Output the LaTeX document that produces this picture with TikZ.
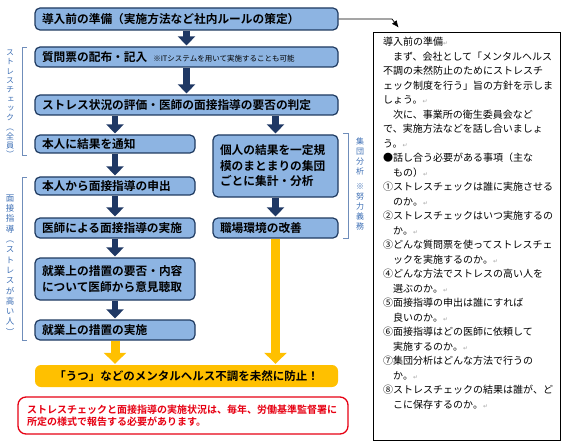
\documentclass[tikz,border=0pt]{standalone}
\usepackage{fontspec}
\setmainfont{Noto Sans CJK JP}[BoldFont={Noto Sans CJK JP Bold}]
\newfontfamily\vjp{Noto Sans CJK JP}[RawFeature=+vert]
\newfontfamily\symfont{DejaVu Sans}
\usetikzlibrary{arrows.meta}

\definecolor{boxfill}{HTML}{8DB4E2}
\definecolor{boxline}{HTML}{1F3A60}
\definecolor{navy}{HTML}{1F3864}
\definecolor{warn}{HTML}{FFC000}
\definecolor{alert}{HTML}{E60012}
\definecolor{labelblue}{HTML}{3C6EB4}
\definecolor{bracket}{HTML}{6F8DBA}

\newcommand{\retmark}{{\symfont\color{gray!70}\fontsize{6}{6}\selectfont ↵}}

\begin{document}
\begin{tikzpicture}[x=1pt,y=-1pt,
  flowbox/.style={draw=boxline, line width=1.2pt, fill=boxfill, rounded corners=5pt,
    font=\bfseries\fontsize{11.7}{15.5}\selectfont, inner xsep=7pt, inner ysep=0pt, align=left},
  wide/.style={flowbox, text width=289pt},
  narrow/.style={flowbox, text width=146pt},
  darr/.style={navy, line width=6.5pt, -{Triangle[width=17pt,length=9pt]}, shorten >=1pt},
  yarr/.style={warn, line width=9pt, -{Triangle[width=22pt,length=11pt]}, shorten >=1pt},
  vlabel/.style={labelblue, align=center, inner sep=0pt},
  brk/.style={bracket, line width=0.8pt}]
\useasboundingbox (0,0) rectangle (585,446);

% Main flow
\node[wide, minimum height=22pt] (prep) at (186.5,19) {導入前の準備（実施方法など社内ルールの策定）};
\node[wide, minimum height=20pt] (survey) at (186.5,57) {質問票の配布・記入\hspace{6pt}{\mdseries\fontsize{7.5}{9}\selectfont ※ITシステムを用いて実施することも可能}};
\node[wide, minimum height=20pt] (judge) at (186.5,105) {ストレス状況の評価・医師の面接指導の要否の判定};

% Left column
\node[narrow, minimum height=18pt] (notify) at (115,144) {本人に結果を通知};
\node[narrow, minimum height=18pt] (request) at (115,186) {本人から面接指導の申出};
\node[narrow, minimum height=20pt] (interview) at (115,228) {医師による面接指導の実施};
\node[narrow, minimum height=42pt] (opinion) at (115,279) {就業上の措置の要否・内容\\について医師から意見聴取};
\node[narrow, minimum height=20pt] (measure) at (115,330) {就業上の措置の実施};

% Right column
\node[flowbox, text width=111pt, minimum height=62pt] (group) at (275.5,166) {個人の結果を一定規\\模のまとまりの集団\\ごとに集計・分析};
\node[flowbox, text width=111pt, minimum height=20pt] (improve) at (275.5,228) {職場環境の改善};

% Goal and note
\node[fill=warn, rounded corners=6pt, minimum width=303pt, minimum height=22pt, inner sep=0pt,
  font=\bfseries\fontsize{11.5}{14}\selectfont] (prevent) at (186.5,376) {「うつ」などのメンタルヘルス不調を未然に防止！};
\node[draw=alert, line width=1.3pt, rounded corners=8pt, text width=312pt, minimum height=37pt,
  inner xsep=9pt, inner ysep=0pt, align=left, text=alert,
  font=\bfseries\fontsize{10}{12.5}\selectfont] (report) at (183,415.5) {ストレスチェックと面接指導の実施状況は、毎年、労働基準監督署に\\所定の様式で報告する必要があります。};

% Arrows
\draw[darr] (prep) -- (survey);
\draw[darr] (survey) -- (judge);
\draw[darr] (judge.south -| notify.north) -- (notify.north);
\draw[darr] (judge.south -| group.north) -- (group.north);
\draw[darr] (notify) -- (request);
\draw[darr] (request) -- (interview);
\draw[darr] (interview) -- (opinion);
\draw[darr] (opinion) -- (measure);
\draw[darr] (group) -- (improve);
\draw[yarr] (measure.south) -- (prevent.north -| measure.south);
\draw[yarr] (improve.south) -- (prevent.north -| improve.south);

% Side labels
\draw[brk] (27,47) -- (22,47) -- (22,155) -- (27,155);
\node[vlabel, font=\vjp\fontsize{8}{9.3}\selectfont] (lblcheck) at (10,104) {ス\\ト\\レ\\ス\\チ\\ェ\\ッ\\ク\\（\\全\\員\\）};
\draw[brk] (27,177) -- (22,177) -- (22,340) -- (27,340);
\node[vlabel, font=\vjp\fontsize{8.5}{10.3}\selectfont] (lblmeet) at (10,265) {面\\接\\指\\導\\（\\ス\\ト\\レ\\ス\\が\\高\\い\\人\\）};
\draw[brk] (343,133) -- (348,133) -- (348,238) -- (343,238);
\node[vlabel, font=\vjp\fontsize{8}{10}\selectfont] (lblgroup) at (360,184) {集\\団\\分\\析\\[5pt]※\\努\\力\\義\\務};

% Memo
\node[draw, line width=0.8pt, minimum width=187pt, minimum height=408pt, inner sep=0pt] (memo) at (466.5,236) {};
\node[anchor=north west, align=left, inner sep=0pt, font=\fontsize{10}{14.5}\selectfont] (memotext) at (383,37) {%
導入前の準備\retmark\\
\hspace*{1em}まず、会社として「メンタルヘルス\\
不調の未然防止のためにストレスチ\\
ェック制度を行う」旨の方針を示しま\\
しょう。\retmark\\
\hspace*{1em}次に、事業所の衛生委員会など\\
で、実施方法などを話し合いましょ\\
う。\retmark\\
●話し合う必要がある事項（主な\\
\hspace*{1em}もの）\retmark\\
①ストレスチェックは誰に実施させる\\
\hspace*{1em}のか。\retmark\\
②ストレスチェックはいつ実施するの\\
\hspace*{1em}か。\retmark\\
③どんな質問票を使ってストレスチェ\\
\hspace*{1em}ックを実施するのか。\retmark\\
④どんな方法でストレスの高い人を\\
\hspace*{1em}選ぶのか。\retmark\\
⑤面接指導の申出は誰にすれば\\
\hspace*{1em}良いのか。\retmark\\
⑥面接指導はどの医師に依頼して\\
\hspace*{1em}実施するのか。\retmark\\
⑦集団分析はどんな方法で行うの\\
\hspace*{1em}か。\retmark\\
⑧ストレスチェックの結果は誰が、ど\\
\hspace*{1em}こに保存するのか。\retmark};
\coordinate (bend) at (392,19);
\draw[line width=0.7pt, -{Latex[length=7pt,width=6pt]}] (prep.east) -- (bend) -- ([xshift=26pt,yshift=4pt]memo.north west);
\end{tikzpicture}
\end{document}
